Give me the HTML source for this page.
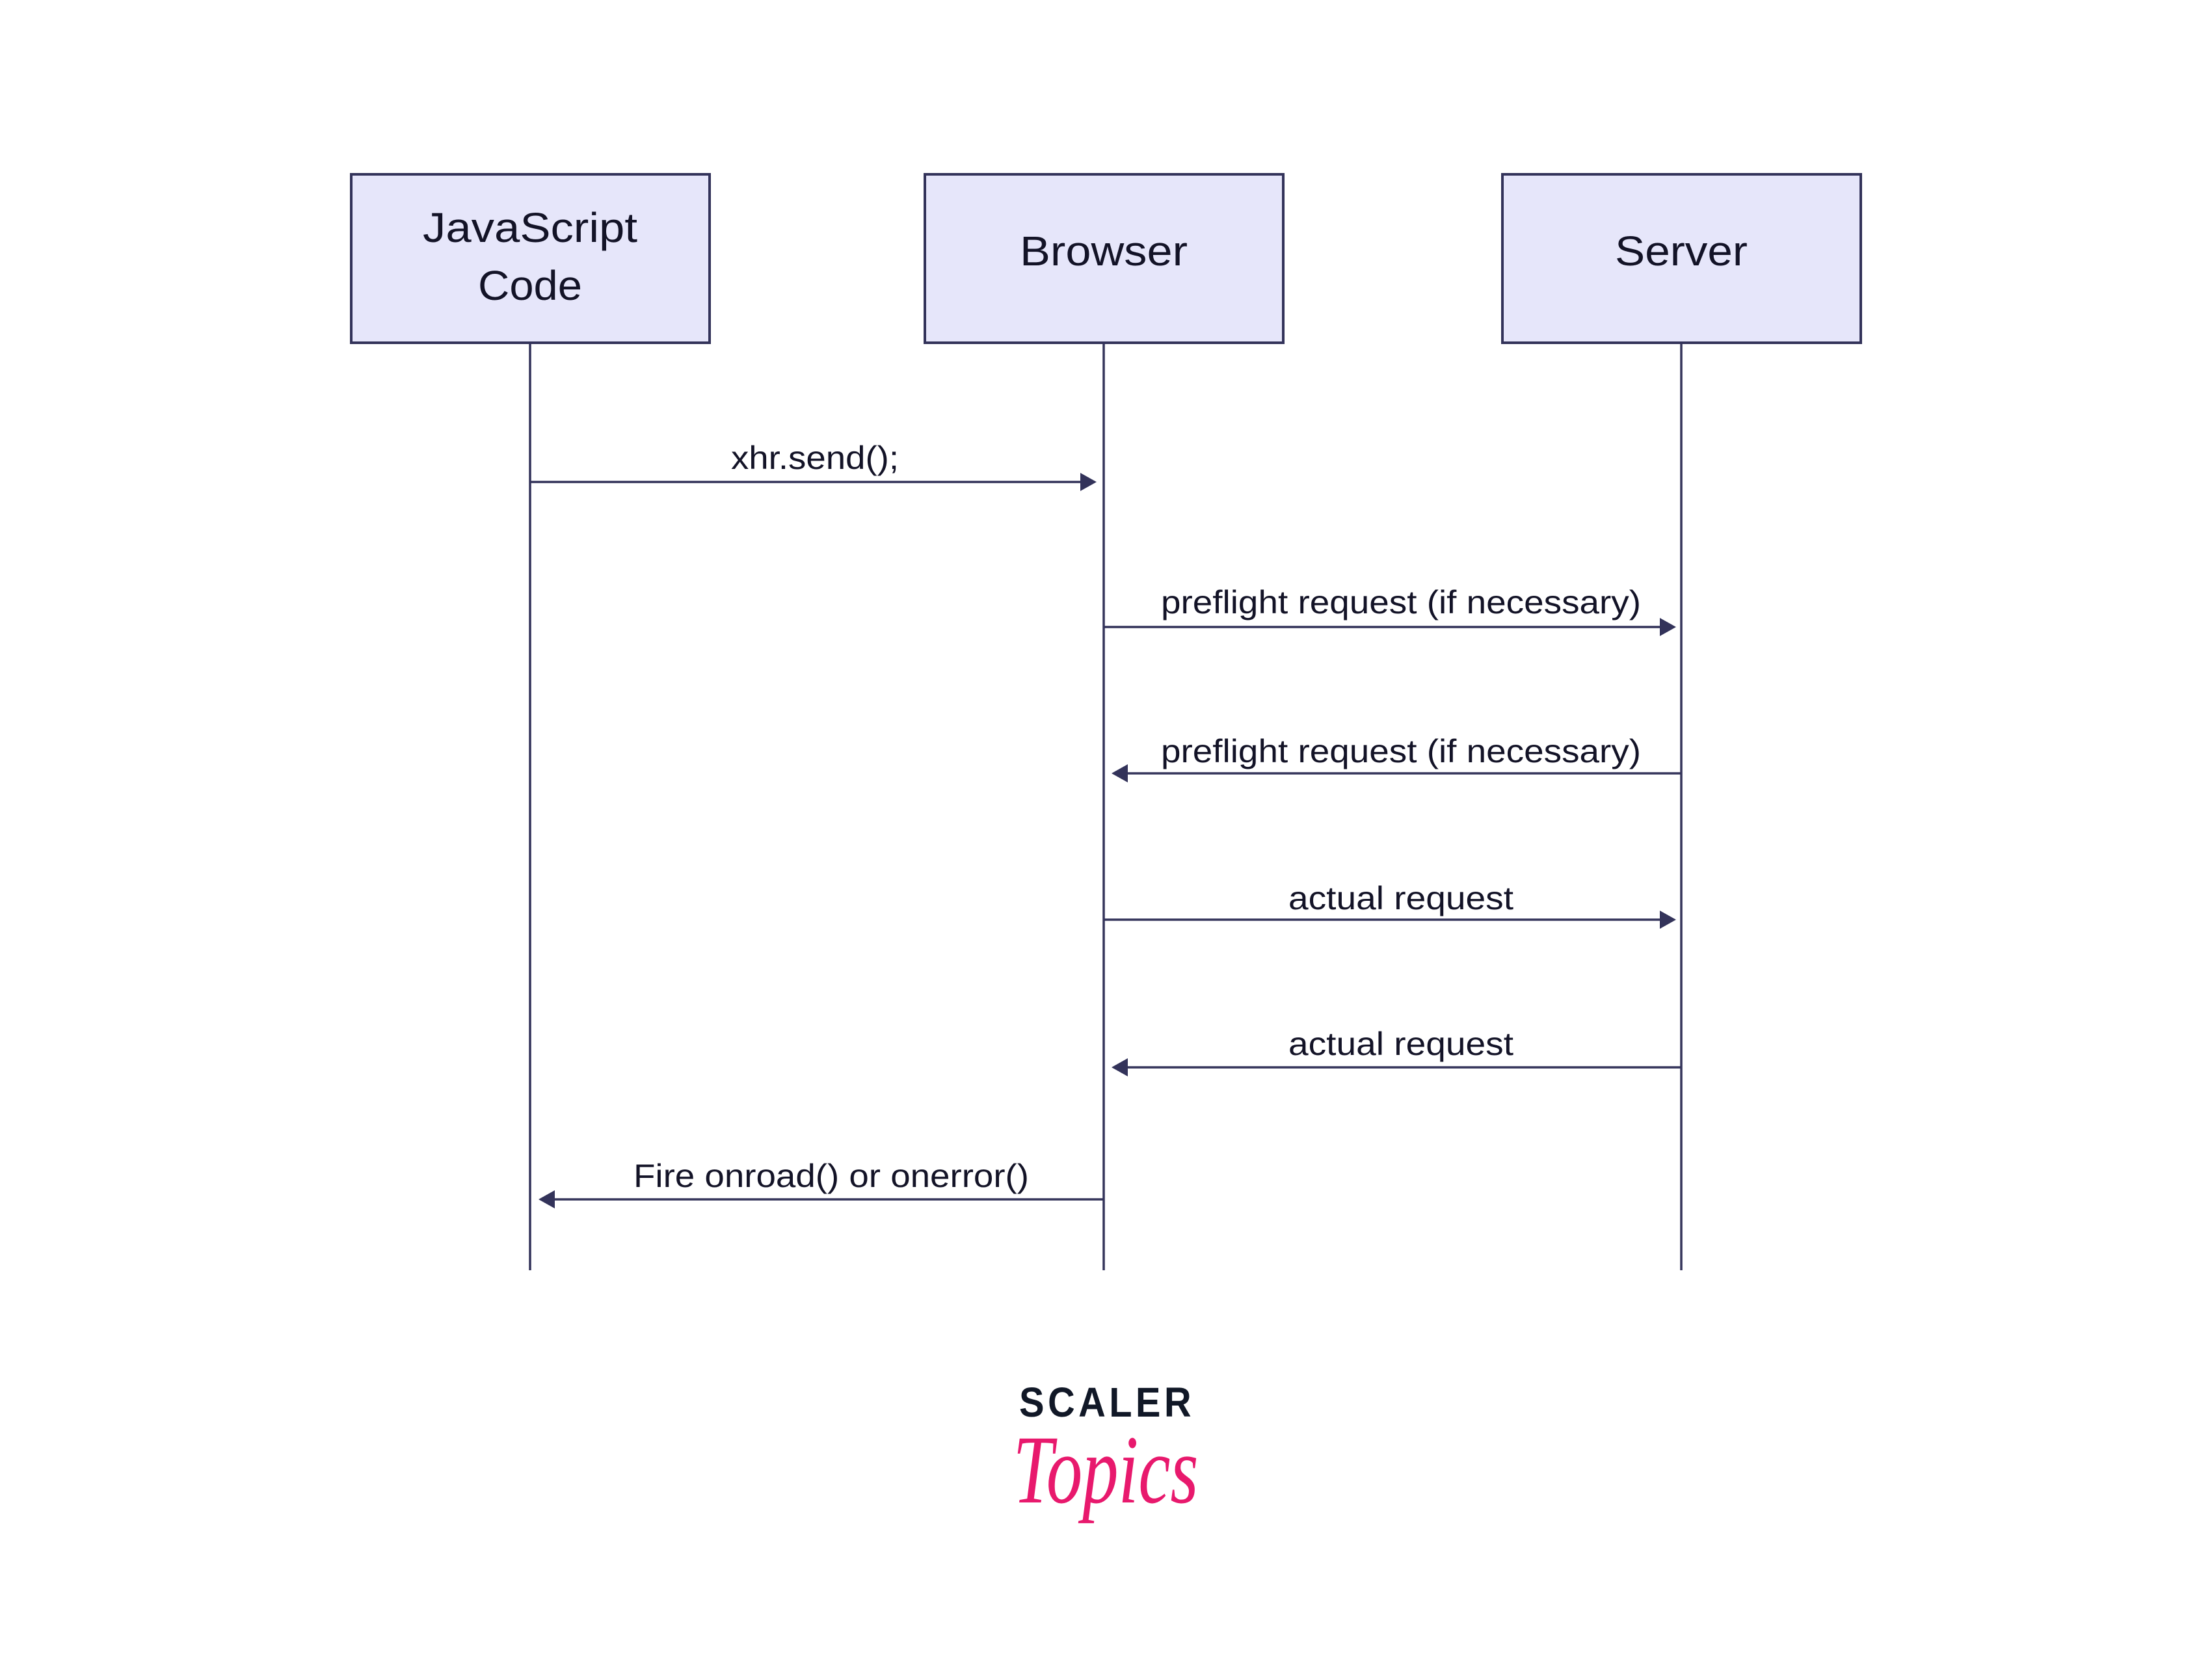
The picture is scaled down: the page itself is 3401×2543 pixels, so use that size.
<!DOCTYPE html>
<html><head><meta charset="utf-8"><style>
html,body{margin:0;padding:0;background:#fff;}
svg{display:block;}
</style></head><body>
<svg width="3401" height="2543" viewBox="0 0 3401 2543" xmlns="http://www.w3.org/2000/svg">
<g fill="#e6e6fa" stroke="#33335a" stroke-width="4">
<rect x="540" y="268" width="551" height="259"/>
<rect x="1422" y="268" width="551" height="259"/>
<rect x="2310" y="268" width="551" height="259"/>
</g>
<g stroke="#33335a" stroke-width="3.5">
<line x1="815" y1="527" x2="815" y2="1953"/>
<line x1="1697" y1="527" x2="1697" y2="1953"/>
<line x1="2585" y1="527" x2="2585" y2="1953"/>
<line x1="815" y1="741" x2="1670" y2="741"/>
<line x1="1697" y1="964" x2="2560" y2="964"/>
<line x1="1720" y1="1189" x2="2585" y2="1189"/>
<line x1="1697" y1="1414" x2="2560" y2="1414"/>
<line x1="1720" y1="1641" x2="2585" y2="1641"/>
<line x1="840" y1="1844" x2="1697" y2="1844"/>
</g>
<g fill="#33335a">
<polygon points="1686,741 1661,727 1661,755"/>
<polygon points="2577,964 2552,950 2552,978"/>
<polygon points="1709,1189 1734,1175 1734,1203"/>
<polygon points="2577,1414 2552,1400 2552,1428"/>
<polygon points="1709,1641 1734,1627 1734,1655"/>
<polygon points="828,1844 853,1830 853,1858"/>
</g>
<g font-family="Liberation Sans, sans-serif" fill="#131327" text-anchor="middle">
<text x="815" y="372" font-size="64" textLength="330" lengthAdjust="spacingAndGlyphs">JavaScript</text>
<text x="815" y="461" font-size="64" textLength="160" lengthAdjust="spacingAndGlyphs">Code</text>
<text x="1697" y="408" font-size="64" textLength="258" lengthAdjust="spacingAndGlyphs">Browser</text>
<text x="2585" y="408" font-size="64" textLength="204" lengthAdjust="spacingAndGlyphs">Server</text>
<text x="1253" y="721" font-size="50" textLength="258" lengthAdjust="spacingAndGlyphs">xhr.send();</text>
<text x="2154" y="943" font-size="50" textLength="738" lengthAdjust="spacingAndGlyphs">preflight request (if necessary)</text>
<text x="2154" y="1172" font-size="50" textLength="738" lengthAdjust="spacingAndGlyphs">preflight request (if necessary)</text>
<text x="2154" y="1398" font-size="50" textLength="346" lengthAdjust="spacingAndGlyphs">actual request</text>
<text x="2154" y="1622" font-size="50" textLength="346" lengthAdjust="spacingAndGlyphs">actual request</text>
<text x="1278" y="1825" font-size="50" textLength="608" lengthAdjust="spacingAndGlyphs">Fire onroad() or onerror()</text>
</g>
<text x="1702" y="2178" font-family="Liberation Sans, sans-serif" font-weight="bold" font-size="64" fill="#111827" text-anchor="middle" textLength="270" lengthAdjust="spacingAndGlyphs" letter-spacing="6">SCALER</text>
<text x="1700" y="2310" font-family="Liberation Serif, serif" font-style="italic" font-size="150" fill="#e8196d" text-anchor="middle" textLength="285" lengthAdjust="spacingAndGlyphs">Topics</text>
</svg>
</body></html>
